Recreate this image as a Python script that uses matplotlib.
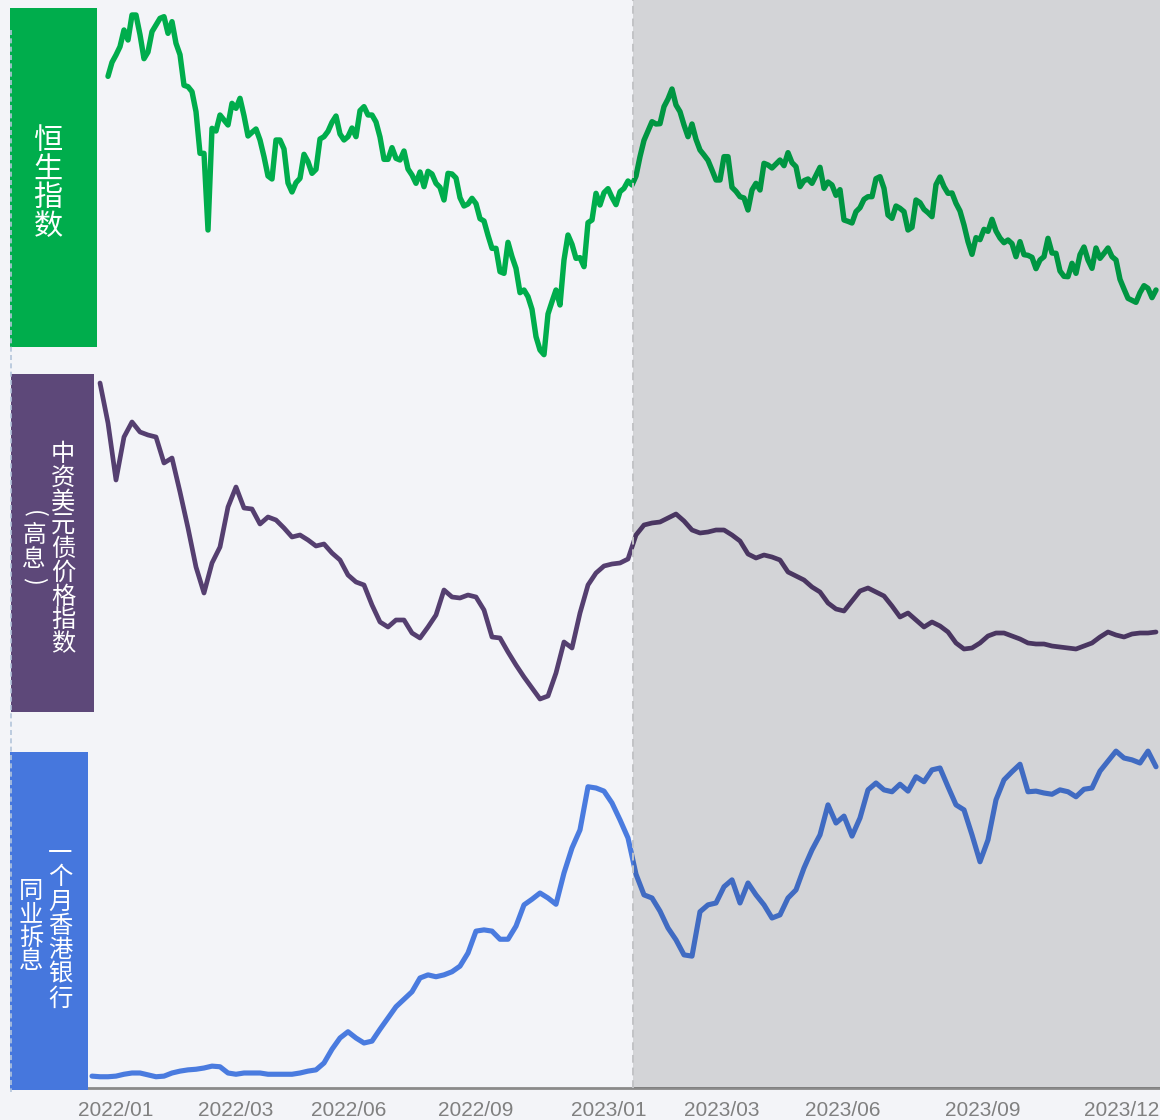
import numpy as np
import matplotlib
matplotlib.use("Agg")
import matplotlib.pyplot as plt
from matplotlib.patches import Rectangle
from matplotlib.lines import Line2D

plt.rcParams['font.family'] = ['Noto Sans CJK SC', 'DejaVu Sans']

# Hang Seng, sampled twice as often as the other two series
hsi = [np.nan, np.nan, np.nan, np.nan, 23010, 23430, 23650, 23900, 24400, 24100,
       24850, 24850, 24260, 23540, 23740, 24350, 24550, 24750, 24800, 24300,
       24650, 24000, 23660, 22740, 22700, 22550, 21950, 20700, 20700, 18400,
       21450, 21370, 21850, 21700, 21550, 22200, 22050, 22350, 21830, 21220,
       21330, 21430, 21100, 20600, 20020, 19930, 21100, 21100, 20830, 19810,
       19540, 19820, 19950, 20670, 20450, 20100, 20220, 21130, 21200, 21360,
       21630, 21820, 21280, 21100, 21200, 21460, 21200, 21980, 22100, 21850,
       21850, 21640, 21190, 20520, 20520, 20870, 20550, 20500, 20770, 20230,
       20050, 19800, 20140, 19700, 20160, 20080, 19800, 19680, 19300, 20100,
       20080, 19960, 19370, 19120, 19180, 19350, 19190, 18740, 18670, 18240,
       17850, 17850, 17150, 17100, 18030, 17600, 17250, 16520, 16600, 16400,
       16020, 15200, 14800, 14660, 15880, 16250, 16600, 16150, 17500, 18250,
       17970, 17550, 17570, 17300, 18620, 18700, 19500, 19150, 19520, 19640,
       19380, 19160, 19550, 19650, 19870, 19750, 20020, 20600, 21090, 21370,
       21650, 21580, 21590, 22100, 22330, 22630, 22150, 21950, 21550, 21200,
       21580, 21120, 20800, 20650, 20490, 20200, 19900, 19900, 20600, 20600,
       19680, 19560, 19400, 19360, 19000, 19600, 19800, 19600, 20400, 20350,
       20260, 20380, 20500, 20330, 20720, 20420, 20300, 19700, 19880, 19930,
       19800, 20040, 20280, 19650, 19840, 19750, 19440, 19610, 18700, 18660,
       18610, 18950, 19070, 19320, 19400, 19400, 19940, 20000, 19650, 18850,
       18750, 19120, 19050, 18950, 18400, 18480, 19300, 19220, 19020, 18920,
       18800, 19760, 19990, 19700, 19500, 19510, 19200, 18970, 18550, 18050,
       17670, 18170, 18110, 18420, 18360, 18720, 18370, 18160, 18020, 18100,
       17990, 17600, 18050, 17660, 17640, 17580, 17240, 17500, 17600, 18150,
       17710, 17700, 17170, 17010, 17000, 17400, 17100, 17660, 17890, 17500,
       17250, 17860, 17550, 17700, 17860, 17600, 17500, 16920, 16630, 16350,
       16290, 16230, 16520, 16730, 16650, 16370, 16600]

bond = [np.nan, 123.4, 115.4, 104.0, 112.6, 115.6, 113.6, 113.0, 112.6, 107.4,
        108.4, 101.6, 94.4, 86.6, 81.4, 87.4, 90.6, 98.6, 102.6, 98.4,
        98.2, 95.2, 96.6, 96.0, 94.4, 92.6, 93.0, 92.0, 90.8, 91.2,
        89.4, 88.0, 85.0, 83.6, 83.0, 79.0, 75.6, 74.6, 76.0, 76.0,
        73.4, 72.4, 74.6, 77.0, 82.0, 80.6, 80.4, 81.0, 80.6, 78.0,
        72.6, 72.4, 69.6, 67.0, 64.6, 62.4, 60.2, 60.8, 65.4, 71.6,
        70.4, 77.4, 83.0, 85.4, 86.8, 87.2, 87.4, 88.2, 93.0, 95.0,
        95.4, 95.6, 96.4, 97.2, 95.8, 94.0, 93.4, 93.6, 94.0, 94.0,
        93.0, 91.8, 89.2, 88.4, 89.0, 88.6, 88.0, 85.6, 84.8, 84.0,
        82.6, 81.6, 79.4, 78.2, 77.8, 79.8, 81.8, 82.4, 81.6, 80.8,
        78.8, 76.6, 77.4, 76.0, 74.6, 75.6, 74.8, 73.6, 71.4, 70.2,
        70.4, 71.4, 72.8, 73.4, 73.4, 72.8, 72.2, 71.4, 71.2, 71.2,
        70.8, 70.6, 70.4, 70.2, 70.8, 71.4, 72.6, 73.6, 73.0, 72.6,
        73.2, 73.4, 73.4, 73.6]

hibor = [0.19, 0.18, 0.18, 0.19, 0.22, 0.24, 0.24, 0.21, 0.18, 0.19,
         0.24, 0.27, 0.29, 0.30, 0.32, 0.35, 0.34, 0.24, 0.22, 0.24,
         0.24, 0.24, 0.22, 0.22, 0.22, 0.22, 0.24, 0.27, 0.29, 0.40,
         0.62, 0.80, 0.90, 0.80, 0.72, 0.75, 0.94, 1.12, 1.30, 1.42,
         1.54, 1.76, 1.81, 1.78, 1.81, 1.86, 1.95, 2.16, 2.51, 2.53,
         2.51, 2.38, 2.38, 2.59, 2.93, 3.02, 3.12, 3.04, 2.94, 3.44,
         3.84, 4.13, 4.82, 4.80, 4.75, 4.56, 4.29, 4.00, 3.42, 3.09,
         3.04, 2.83, 2.56, 2.37, 2.13, 2.11, 2.82, 2.93, 2.96, 3.22,
         3.33, 2.96, 3.28, 3.09, 2.93, 2.72, 2.77, 3.04, 3.17, 3.52,
         3.81, 4.05, 4.53, 4.24, 4.35, 4.03, 4.32, 4.77, 4.88, 4.77,
         4.74, 4.86, 4.75, 4.98, 4.90, 5.09, 5.12, 4.82, 4.53, 4.45,
         4.05, 3.62, 3.97, 4.61, 4.93, 5.06, 5.18, 4.74, 4.75, 4.72,
         4.70, 4.77, 4.74, 4.66, 4.78, 4.80, 5.07, 5.23, 5.39, 5.28,
         5.25, 5.20, 5.39, 5.14]

tick_labels = ['2022/01', '2022/03', '2022/06', '2022/09', '2023/01',
               '2023/03', '2023/06', '2023/09', '2023/12']
tick_pos = [2.9, 17.9, 32.1, 47.9, 64.6, 78.75, 93.9, 111.4, 128.75]
split = 67.6   # start of 2023

n = len(hibor)
x = np.arange(n)
x_hsi = np.arange(len(hsi)) / 2

W, H = 1160, 1120
fig = plt.figure(figsize=(W / 100, H / 100), dpi=100)
fig.patch.set_facecolor('#f3f4f8')


def px_axes(top, bottom, left=88, right=1160, z=1):
    ax = fig.add_axes([left / W, 1 - bottom / H, (right - left) / W, (bottom - top) / H], zorder=z)
    ax.set_facecolor('none')
    ax.set_xlim(-0.5, n - 0.5)
    for s in ax.spines.values():
        s.set_visible(False)
    ax.set_xticks([])
    ax.set_yticks([])
    return ax


ax1 = px_axes(0, 360)
ax1.plot(x_hsi, hsi, color='#00ad4c', lw=3.9, solid_joinstyle='round', solid_capstyle='round', clip_on=False)
ax1.set_ylim(14500, 25300)

ax2 = px_axes(370, 715)
ax2.plot(x, bond, color='#553f70', lw=3.4, solid_joinstyle='round', solid_capstyle='round', clip_on=False)
ax2.set_ylim(57, 126)

ax3 = px_axes(740, 1088)
ax3.plot(x, hibor, color='#4a7bdf', lw=3.7, solid_joinstyle='round', solid_capstyle='round', clip_on=False)
ax3.set_ylim(0, 5.568)
ax3.spines['bottom'].set_visible(True)
ax3.spines['bottom'].set_color('#8a8a8a')
ax3.spines['bottom'].set_linewidth(2)
ax3.set_xticks(tick_pos)
ax3.set_xticklabels(tick_labels, family=['Liberation Sans', 'DejaVu Sans'])
ax3.tick_params(axis='x', length=0, pad=9, labelsize=15, labelcolor='#808080')

# grey overlay for 2023 and the divider
ov = px_axes(0, 1088, z=5)
ov.set_ylim(0, 1)
ov.axvspan(split, n, color='black', alpha=0.13, lw=0)
ov.axvline(split, color='#c2c3c6', lw=1.4, dashes=(4, 2.5))

# label boxes on the left
boxes = [(10, 8, 97, 347, '#00ad4c'), (11, 374, 94, 712, '#5d4879'), (10, 752, 88, 1090, '#4677dd')]
for l, t, r, b, c in boxes:
    fig.add_artist(Rectangle((l / W, 1 - b / H), (r - l) / W, (b - t) / H,
                             transform=fig.transFigure, color=c, lw=0, zorder=2))
fig.add_artist(Line2D([11 / W, 11 / W], [1 - 30 / H, 1 - 1092 / H], transform=fig.transFigure,
                      color='#b3c4db', lw=1.2, dashes=(3, 2), zorder=3))


def vcol(xp, yc, s, size, pitch):
    # one vertical column of characters, centred on yc (pixels from top)
    k0 = (len(s) - 1) / 2
    for k, ch in enumerate(s):
        fig.text(xp / W, 1 - (yc + (k - k0) * pitch) / H, ch, ha='center', va='center',
                 color='white', fontsize=size, zorder=4)


vcol(48, 184, '恒生指数', 21, 28.7)
vcol(63, 549, '中资美元债价格指数', 17.5, 23.8)
vcol(60, 926, '一个月香港银行', 17.5, 24.4)
vcol(31, 926, '同业拆息', 17.5, 23.6)

# (高息) in the left column, brackets turned for vertical text
for yp, ch, rot in [(514, '(', -90), (535.5, '高', 0), (559.5, '息', 0), (581, ')', -90)]:
    fig.text(34 / W, 1 - yp / H, ch, ha='center', va='center', rotation=rot,
             color='white', fontsize=17, zorder=4)

fig.savefig('out.png', dpi=100, facecolor=fig.get_facecolor())
